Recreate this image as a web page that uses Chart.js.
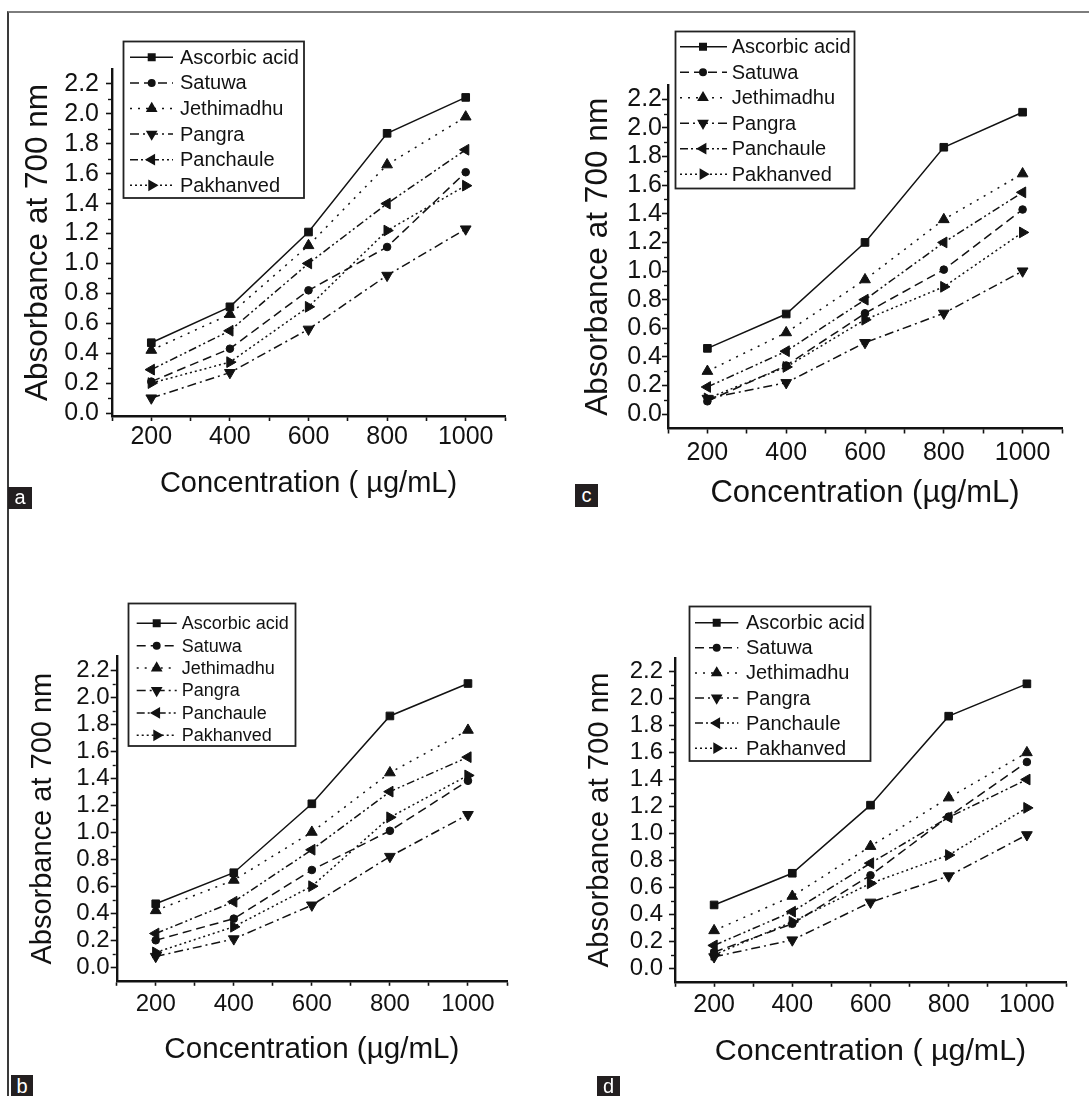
<!DOCTYPE html>
<html>
<head>
<meta charset="utf-8">
<title>Reducing power of plant extracts</title>
<script src="https://cdn.jsdelivr.net/npm/chart.js@4.4.1/dist/chart.umd.min.js"></script>
<style>
  html, body { margin: 0; padding: 0; background: #fff; }
  #fig { position: relative; width: 1089px; height: 1096px; overflow: hidden; background: #fff; }
  .frame { position: absolute; left: 7px; top: 11px; right: -4px; bottom: -4px;
           border-top: 2px solid #7d7d7d; border-left: 2px solid #3a3a3a; }
  .panel { position: absolute; }
  .panel canvas { display: block; }
  .tag { position: absolute; background: #231f20; color: #fff; text-align: center;
         font: 20px "Liberation Sans", Arial, sans-serif; }
</style>
</head>
<body>
<div id="fig">
  <div class="frame"></div>
  <div class="panel" style="left:0;top:0;"><canvas id="chartA" width="545" height="548"></canvas></div>
  <div class="panel" style="left:545px;top:0;"><canvas id="chartC" width="544" height="548"></canvas></div>
  <div class="panel" style="left:0;top:548px;"><canvas id="chartB" width="545" height="548"></canvas></div>
  <div class="panel" style="left:545px;top:548px;"><canvas id="chartD" width="544" height="548"></canvas></div>
  <div class="tag" style="left:8px;top:487px;width:24px;height:22px;line-height:21px;">a</div>
  <div class="tag" style="left:575px;top:484px;width:23px;height:23px;line-height:23px;">c</div>
  <div class="tag" style="left:11px;top:1075px;width:22px;height:24px;line-height:22px;">b</div>
  <div class="tag" style="left:597px;top:1076px;width:23px;height:24px;line-height:21px;">d</div>
</div>
<script>
// Concentrations tested (µg/mL)
const concentrations = [200, 400, 600, 800, 1000];
const seriesNames = ['Ascorbic acid', 'Satuwa', 'Jethimadhu', 'Pangra', 'Panchaule', 'Pakhanved'];

// Absorbance at 700 nm, one row per series (same order as seriesNames)
const absorbanceA = [
  [0.47, 0.71, 1.21, 1.87, 2.11],
  [0.21, 0.43, 0.82, 1.11, 1.61],
  [0.42, 0.66, 1.12, 1.66, 1.98],
  [0.10, 0.27, 0.56, 0.92, 1.23],
  [0.29, 0.55, 1.00, 1.40, 1.76],
  [0.20, 0.34, 0.71, 1.22, 1.52]
];
const absorbanceB = [
  [0.47, 0.70, 1.21, 1.86, 2.10],
  [0.20, 0.36, 0.72, 1.01, 1.38],
  [0.42, 0.645, 1.00, 1.44, 1.755],
  [0.08, 0.21, 0.46, 0.82, 1.13],
  [0.25, 0.485, 0.87, 1.30, 1.555],
  [0.11, 0.30, 0.60, 1.11, 1.42]
];
const absorbanceC = [
  [0.46, 0.70, 1.20, 1.865, 2.11],
  [0.09, 0.34, 0.705, 1.01, 1.43],
  [0.30, 0.57, 0.94, 1.36, 1.68],
  [0.11, 0.22, 0.50, 0.705, 1.00],
  [0.19, 0.44, 0.80, 1.20, 1.55],
  [0.11, 0.33, 0.66, 0.89, 1.27]
];
const absorbanceD = [
  [0.47, 0.705, 1.21, 1.87, 2.11],
  [0.12, 0.33, 0.69, 1.125, 1.53],
  [0.28, 0.535, 0.905, 1.265, 1.60],
  [0.085, 0.21, 0.49, 0.685, 0.99],
  [0.17, 0.42, 0.78, 1.12, 1.40],
  [0.10, 0.345, 0.63, 0.84, 1.19]
];

// Axis tick values
const yMajorTicks = [0.0, 0.2, 0.4, 0.6, 0.8, 1.0, 1.2, 1.4, 1.6, 1.8, 2.0, 2.2];
const yMinorTicks = [0.1, 0.3, 0.5, 0.7, 0.9, 1.1, 1.3, 1.5, 1.7, 1.9, 2.1];
const xTickValues = [100, 200, 300, 400, 500, 600, 700, 800, 900, 1000, 1100];
const xLabelValues = [200, 400, 600, 800, 1000];

const FONT = '"Liberation Sans", Arial, Helvetica, sans-serif';
const INK = '#121212';

// Line and marker style of each series
const seriesStyle = [
  { dash: [],                 marker: 'rect',     rotation: 0,   radius: 5.4 },
  { dash: [9, 5],             marker: 'circle',   rotation: 0,   radius: 3.8 },
  { dash: [2, 6],             marker: 'triangle', rotation: 0,   radius: 6.2 },
  { dash: [9, 4, 2, 4],       marker: 'triangle', rotation: 180, radius: 6.2 },
  { dash: [8, 3, 2, 3, 2, 3], marker: 'triangle', rotation: 270, radius: 6.2 },
  { dash: [2, 3],             marker: 'triangle', rotation: 90,  radius: 6.2 }
];

// Boxed legend with line sample + marker for each dataset
const boxLegend = {
  id: 'boxLegend',
  afterDraw(chart, args, o) {
    const ctx = chart.ctx;
    ctx.save();
    ctx.fillStyle = '#fff';
    ctx.fillRect(o.left, o.top, o.width, o.height);
    ctx.lineWidth = 1.8;
    ctx.strokeStyle = '#222';
    ctx.strokeRect(o.left, o.top, o.width, o.height);
    chart.data.datasets.forEach((ds, i) => {
      const y = o.firstRow + i * o.rowStep;
      ctx.strokeStyle = INK;
      ctx.lineWidth = ds.borderWidth;
      ctx.setLineDash(ds.borderDash);
      ctx.beginPath();
      ctx.moveTo(o.lineStart, y);
      ctx.lineTo(o.lineEnd, y);
      ctx.stroke();
      ctx.setLineDash([]);
      ctx.fillStyle = INK;
      Chart.helpers.drawPoint(ctx, {
        pointStyle: ds.pointStyle, rotation: ds.pointRotation,
        radius: ds.pointRadius * 0.85, borderWidth: 1
      }, o.markerX, y);
      ctx.fillStyle = INK;
      ctx.font = o.fontSize + 'px ' + FONT;
      ctx.textAlign = 'left';
      ctx.textBaseline = 'middle';
      ctx.fillText(ds.label, o.textX, y + 1);
    });
    ctx.restore();
  }
};

// Short minor tick marks on the absorbance axis
const minorTicks = {
  id: 'minorTicks',
  afterDraw(chart) {
    const ctx = chart.ctx;
    const ys = chart.scales.y;
    const left = chart.chartArea.left;
    ctx.save();
    ctx.strokeStyle = INK;
    ctx.lineWidth = 1.4;
    yMinorTicks.forEach(v => {
      const p = Math.round(ys.getPixelForValue(v)) + 0.5;
      ctx.beginPath();
      ctx.moveTo(left - 1, p);
      ctx.lineTo(left - 4, p);
      ctx.stroke();
    });
    ctx.restore();
  }
};

function buildChart(canvasId, values, cfg) {
  const datasets = seriesNames.map((name, i) => ({
    label: name,
    data: concentrations.map((c, j) => ({ x: c, y: values[i][j] })),
    borderColor: INK,
    backgroundColor: INK,
    borderWidth: 1.5,
    borderDash: seriesStyle[i].dash,
    pointStyle: seriesStyle[i].marker,
    pointRotation: seriesStyle[i].rotation,
    pointRadius: seriesStyle[i].radius,
    pointBackgroundColor: INK,
    pointBorderColor: INK,
    pointBorderWidth: 1,
    tension: 0,
    fill: false
  }));

  return new Chart(document.getElementById(canvasId), {
    type: 'line',
    data: { datasets },
    plugins: [boxLegend, minorTicks],
    options: {
      responsive: false,
      animation: false,
      events: [],
      layout: { padding: { left: 0, top: cfg.top, right: cfg.right, bottom: 0 } },
      plugins: {
        legend: { display: false },
        tooltip: { enabled: false },
        boxLegend: cfg.legend
      },
      scales: {
        x: {
          type: 'linear',
          min: 100,
          max: 1100,
          afterBuildTicks: s => { s.ticks = xTickValues.map(v => ({ value: v })); },
          afterFit: s => { s.height = cfg.xHeight; },
          ticks: {
            autoSkip: false,
            maxRotation: 0,
            padding: cfg.xTickPad,
            color: INK,
            font: { family: FONT, size: cfg.xTickSize },
            callback: v => (xLabelValues.includes(v) ? String(v) : '')
          },
          grid: { drawOnChartArea: false, drawTicks: true, tickLength: 5, tickWidth: 1.6, tickColor: INK },
          border: { display: true, color: INK, width: 2.4 },
          title: {
            display: true,
            text: cfg.xTitle,
            color: INK,
            font: { family: FONT, size: cfg.xTitleSize },
            padding: { top: 0, bottom: cfg.xTitlePad }
          }
        },
        y: {
          type: 'linear',
          min: cfg.yMin,
          max: 2.3,
          afterBuildTicks: s => { s.ticks = yMajorTicks.map(v => ({ value: v })); },
          afterFit: s => { s.width = cfg.yWidth; },
          ticks: {
            autoSkip: false,
            padding: cfg.yTickPad,
            color: INK,
            font: { family: FONT, size: cfg.yTickSize },
            callback: v => Number(v).toFixed(1)
          },
          grid: { drawOnChartArea: false, drawTicks: true, tickLength: 6, tickWidth: 1.6, tickColor: INK },
          border: { display: true, color: INK, width: 2.4 },
          title: {
            display: true,
            text: 'Absorbance at 700 nm',
            color: INK,
            font: { family: FONT, size: cfg.yTitleSize },
            padding: { top: cfg.yTitlePad, bottom: 0 }
          }
        }
      }
    }
  });
}

buildChart('chartA', absorbanceA, {
  top: 69, right: 40, yWidth: 112, xHeight: 132, yMin: -0.02,
  yTickPad: 7, yTickSize: 25, yTitleSize: 31.5, yTitlePad: 19,
  xTickPad: 1, xTickSize: 25, xTitle: 'Concentration ( µg/mL)', xTitleSize: 29, xTitlePad: 47,
  legend: { left: 123.5, top: 41.5, width: 180.5, height: 156.5, firstRow: 57.3, rowStep: 25.6,
            lineStart: 130, lineEnd: 173, markerX: 151.7, textX: 180, fontSize: 20 }
});

buildChart('chartC', absorbanceC, {
  top: 85, right: 27, yWidth: 123, xHeight: 119.5, yMin: -0.1,
  yTickPad: 0, yTickSize: 25, yTitleSize: 31.6, yTitlePad: 34,
  xTickPad: 4.5, xTickSize: 25, xTitle: 'Concentration (µg/mL)', xTitleSize: 31, xTitlePad: 36,
  legend: { left: 130.5, top: 31.5, width: 179, height: 157, firstRow: 46.7, rowStep: 25.5,
            lineStart: 135, lineEnd: 182, markerX: 158, textX: 186.7, fontSize: 20 }
});

buildChart('chartB', absorbanceB, {
  top: 108.5, right: 38, yWidth: 116.7, xHeight: 115.2, yMin: -0.1,
  yTickPad: 1, yTickSize: 24, yTitleSize: 29, yTitlePad: 25.6,
  xTickPad: 4.6, xTickSize: 24, xTitle: 'Concentration (µg/mL)', xTitleSize: 29.6, xTitlePad: 28,
  legend: { left: 128.5, top: 55.5, width: 167, height: 142.5, firstRow: 75.3, rowStep: 22.4,
            lineStart: 136.7, lineEnd: 176.7, markerX: 156.7, textX: 181.7, fontSize: 18 }
});

buildChart('chartD', absorbanceD, {
  top: 110.2, right: 23, yWidth: 130, xHeight: 114.2, yMin: -0.1,
  yTickPad: 6, yTickSize: 24, yTitleSize: 29.3, yTitlePad: 37.4,
  xTickPad: 3, xTickSize: 25, xTitle: 'Concentration ( µg/mL)', xTitleSize: 30.4, xTitlePad: 26,
  legend: { left: 144.5, top: 58.5, width: 181, height: 154.5, firstRow: 74.7, rowStep: 25.1,
            lineStart: 150, lineEnd: 193.3, markerX: 171.7, textX: 201, fontSize: 20 }
});
</script>
</body>
</html>
